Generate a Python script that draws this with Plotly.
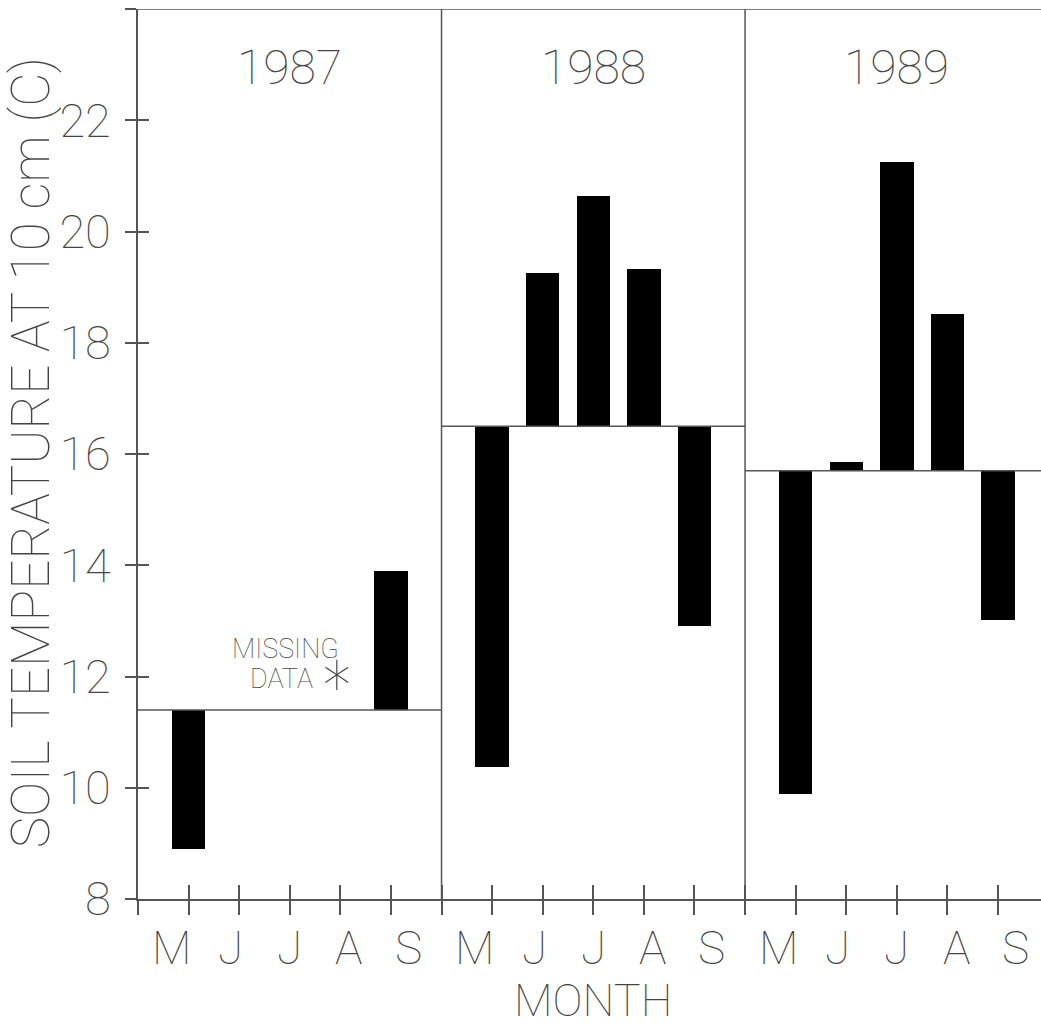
import plotly.graph_objects as go

# ---------------- data ----------------
years = ["1987", "1988", "1989"]
months = ["M", "J", "J", "A", "S"]
# mean soil temperature of the season (reference line per year)
year_means = [11.4, 16.5, 15.7]
# monthly soil temperature at 10 cm (None = missing)
temp_1987 = [8.9, None, None, None, 13.9]
temp_1988 = [10.37, 19.26, 20.63, 19.33, 12.91]
temp_1989 = [9.89, 15.85, 21.25, 18.51, 13.02]
y_ticks = [8, 10, 12, 14, 16, 18, 20, 22]
missing_note_pos = (3.93, 12.03)   # asterisk position (x units, deg C)

series = [temp_1987, temp_1988, temp_1989]

LINE = "#555555"
TXT = "#444444"
FONT = "Roboto"
W = 100  # font weight (thin strokes)

fig = go.Figure()

xs, hs, bs = [], [], []
for i, vals in enumerate(series):
    for j, v in enumerate(vals):
        if v is None:
            continue
        xs.append(i * 6 + j + 1)
        hs.append(v - year_means[i])
        bs.append(year_means[i])

fig.add_trace(go.Bar(x=xs, y=hs, base=bs, width=0.66,
                     marker=dict(color="black", line=dict(width=0)),
                     hoverinfo="skip", showlegend=False))

# yearly mean lines spanning each panel
for i, m in enumerate(year_means):
    fig.add_trace(go.Scatter(x=[i * 6, i * 6 + 6], y=[m, m], mode="lines",
                             line=dict(color=LINE, width=1.5),
                             hoverinfo="skip", showlegend=False))

# asterisk for missing data (6 arms)
for sym in ["y-up-open", "y-down-open"]:
    fig.add_trace(go.Scatter(x=[missing_note_pos[0]], y=[missing_note_pos[1]],
                             mode="markers",
                             marker=dict(symbol=sym, size=19, color=TXT,
                                         line=dict(color=TXT, width=1.2)),
                             hoverinfo="skip", showlegend=False))

# invisible trace for overlay axes (inside half of crossing ticks)
fig.add_trace(go.Scatter(x=[0], y=[8], xaxis="x2", yaxis="y2", mode="markers",
                         marker=dict(opacity=0), hoverinfo="skip",
                         showlegend=False))

XMAX = 17.85
xtickvals = list(range(0, 18))

ytv = y_ticks + [24]
ytt = [str(v) for v in y_ticks] + [""]

common_x = dict(range=[0, XMAX], showgrid=False, zeroline=False,
                tickvals=xtickvals, ticklen=14, tickwidth=1.5,
                tickcolor=LINE, fixedrange=True)
common_y = dict(range=[8, 24], showgrid=False, zeroline=False,
                tickvals=ytv, ticklen=11, tickwidth=1.5,
                tickcolor=LINE, fixedrange=True)

fig.update_layout(
    width=1041, height=1027,
    margin=dict(l=138, r=0, t=9, b=128),
    paper_bgcolor="white", plot_bgcolor="white",
    bargap=0,
    xaxis=dict(**common_x, ticks="outside", showticklabels=False,
               showline=True, linecolor=LINE, linewidth=1.5),
    yaxis=dict(**common_y, ticks="outside", ticktext=ytt,
               showline=True, linecolor=LINE, linewidth=1.5,
               ticklabelstandoff=5,
               tickfont=dict(family=FONT, size=47, color=TXT, weight=W)),
    xaxis2=dict(**common_x, overlaying="x", side="bottom", ticks="inside",
                showticklabels=False, showline=False),
    yaxis2=dict(**common_y, overlaying="y", side="left", ticks="inside",
                showticklabels=False, showline=False),
)

# panel dividers and top border
for xv in [6, 12]:
    fig.add_shape(type="line", x0=xv, x1=xv, y0=8, y1=24, xref="x", yref="y",
                  line=dict(color=LINE, width=1.5))
fig.add_shape(type="line", x0=0, x1=1, y0=24, y1=24, xref="paper", yref="y",
              line=dict(color=LINE, width=1.5))

# year labels
for i, yr in enumerate(years):
    fig.add_annotation(x=i * 6 + 3, y=22.95, text=yr, showarrow=False,
                       xanchor="center", yanchor="middle",
                       font=dict(family=FONT, size=48, color=TXT, weight=W))

# month labels (spread slightly wider than the ticks, as in the original)
LABEL_SPREAD = 1.17
for i in range(len(years)):
    for j, mo in enumerate(months):
        fig.add_annotation(x=i * 6 + 3 + (j - 2) * LABEL_SPREAD, y=-0.055,
                           xref="x", yref="paper", text=mo, showarrow=False,
                           xanchor="center", yanchor="middle",
                           font=dict(family=FONT, size=46, color=TXT, weight=W))

# missing data note
fig.add_annotation(x=4.01, y=12.5, text="MISSING", showarrow=False,
                   xanchor="right", yanchor="middle",
                   font=dict(family=FONT, size=27, color=TXT, weight=W))
fig.add_annotation(x=3.5, y=11.95, text="DATA", showarrow=False,
                   xanchor="right", yanchor="middle",
                   font=dict(family=FONT, size=27, color=TXT, weight=W))

# axis titles
fig.add_annotation(x=9, y=-0.1438, xref="x", yref="paper", text="MONTH",
                   showarrow=False, xanchor="center", yanchor="bottom",
                   yshift=-2,
                   font=dict(family=FONT, size=45, color=TXT, weight=W))
fig.add_annotation(x=-0.1185, y=0.502, xref="paper", yref="paper",
                   text="SOIL TEMPERATURE AT 10 cm (C)", textangle=-90,
                   showarrow=False, xanchor="center", yanchor="middle",
                   font=dict(family=FONT, size=53, color=TXT, weight=W))

fig.write_html(
    "out.html",
    config={"displayModeBar": False},
    post_script="document.body.style.margin='0';"
                "document.body.style.overflow='hidden';",
)
